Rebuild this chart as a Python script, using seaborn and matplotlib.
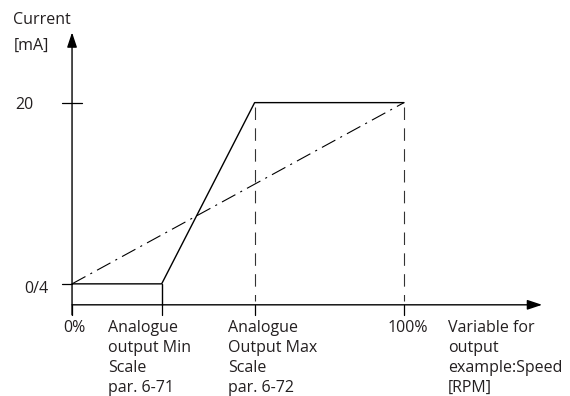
import numpy as np
import pandas as pd
import matplotlib
matplotlib.use('Agg')
import matplotlib.pyplot as plt
import seaborn as sns

# values (x in % of speed, y in mA)
speed_pct = [0, 27, 55, 100]          # 0%, min scale, max scale, 100%
output_ma = [4, 4, 20, 20]            # scaled analogue output
linear_pct = [0, 100]                 # unscaled output (dash-dot)
linear_ma = [4, 20]
dashed_marks = [55, 100]              # dashed drop lines from 20 mA
x_labels = ['0%', 'Analogue\noutput Min\nScale\npar. 6-71',
            'Analogue\nOutput Max\nScale\npar. 6-72', '100%',
            'Variable for\noutput\nexample:Speed\n[RPM]']
x_label_pos = [0, 27, 55, 100]
y_labels = ['0/4', '20']
y_label_pos = [4, 20]

sns.set_style('white')
plt.rcParams['font.family'] = ['Open Sans', 'DejaVu Sans']
plt.rcParams['lines.scale_dashes'] = False

fig = plt.figure(figsize=(5.7, 3.96), dpi=100)
ax = fig.add_axes([0, 0, 1, 1])
ax.set_xlim(-21.7, 150)
ax.set_ylim(-5.9, 29.06)
ax.axis('off')

x_axis_y = 2.15
tick_low = 1.27
txt_col = '#231f20'
fs = 11.5

# axes with arrows
arrow = dict(arrowstyle='-|>,head_length=0.9,head_width=0.3',
             mutation_scale=10, color='black', lw=1.0, shrinkA=0, shrinkB=0)
ax.annotate('', xy=(141.6, x_axis_y), xytext=(0, x_axis_y), arrowprops=arrow)
ax.annotate('', xy=(0, 26.2), xytext=(0, tick_low), arrowprops=arrow)

# tick marks
for xp in x_label_pos:
    ax.plot([xp, xp], [tick_low, x_axis_y], color='black', lw=0.9)
ax.plot([-3, 3], [20, 20], color='black', lw=0.9)
ax.plot([-3, 0], [4, 4], color='black', lw=0.9)

# scaled output curve
df = pd.DataFrame({'speed': speed_pct, 'mA': output_ma})
sns.lineplot(data=df, x='speed', y='mA', ax=ax, color='black', lw=1.0,
             sort=False, estimator=None)
ax.plot([speed_pct[1], speed_pct[1]], [x_axis_y, output_ma[1]], color='black', lw=1.0)

# linear reference (dash-dot)
sns.lineplot(x=linear_pct, y=linear_ma, ax=ax, color='black', lw=0.8,
             linestyle=(0, (11, 4, 1.5, 4)))

# dashed drop lines
for xp in dashed_marks:
    ax.plot([xp, xp], [19.6, x_axis_y + 0.3], color='#333333', lw=0.8,
            linestyle=(0, (9, 6)))

# bottom labels, one line at a time (20 px line pitch)
line_step = 20 / 11.33
first_base = -0.24
left_x = [None, 10.8, 47.0, None, 113.3]
centre_x = [0.8, None, None, 101.2, None]
for lab, lx, cx in zip(x_labels, left_x, centre_x):
    for k, line in enumerate(lab.split('\n')):
        yb = first_base - k * line_step
        if lx is not None:
            ax.text(lx, yb, line, ha='left', va='baseline', fontsize=fs, color=txt_col)
        else:
            ax.text(cx, yb, line, ha='center', va='baseline', fontsize=fs, color=txt_col)

ax.text(-11.7, 19.45, y_labels[1], ha='right', va='baseline', fontsize=fs, color=txt_col)
ax.text(-7.2, 3.2, y_labels[0], ha='right', va='baseline', fontsize=fs, color=txt_col)
ax.text(-17.8, 26.95, 'Current', ha='left', va='baseline', fontsize=fs, color=txt_col)
ax.text(-17.6, 24.65, '[mA]', ha='left', va='baseline', fontsize=fs, color=txt_col)

fig.savefig('out.png', dpi=100)
